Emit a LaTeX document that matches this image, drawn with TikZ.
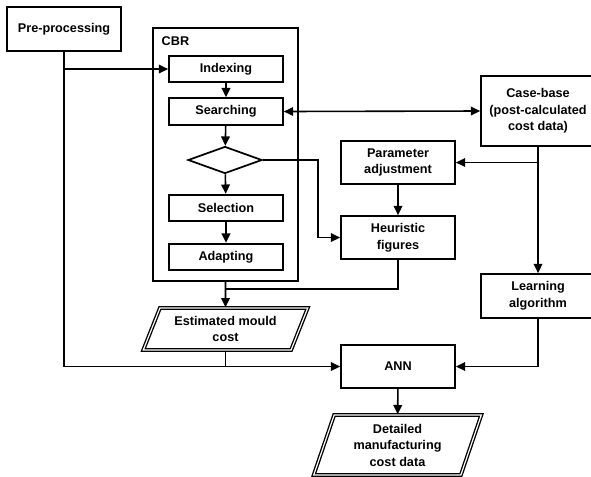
\documentclass[tikz,border=0pt]{standalone}
\usepackage{fontspec}
\setmainfont{Liberation Sans}
\usetikzlibrary{arrows.meta, positioning, shapes.geometric}

\begin{document}
\begin{tikzpicture}[
  x=0.75pt, y=-0.75pt,
  font=\fontsize{9.5}{12.4}\selectfont\bfseries,
  box/.style={draw, line width=1.3pt, minimum width=85.5pt, align=center, inner sep=1pt},
  stepbox/.style={box, minimum height=20pt},
  outbox/.style={draw, line width=1pt, double, double distance=0.9pt, trapezium, trapezium stretches=true, align=center, inner sep=1pt},
  arrow/.style={-{Triangle[length=7pt, width=6.5pt]}, line width=1.2pt},
  twoway/.style={{Triangle[length=7pt, width=6.5pt]}-{Triangle[length=7pt, width=6.5pt]}, line width=1.2pt},
  line/.style={line width=1.2pt},
]
\useasboundingbox (0,0) rectangle (591,476);

% CBR frame and its steps
\node[draw, line width=1.3pt, minimum width=108.75pt, minimum height=189.75pt] (cbr) at (225.5,154.5) {};
\node[anchor=west] (cbrlabel) at (157,41) {CBR};
\node[stepbox] (indexing) at (226,69) {Indexing};
\node[stepbox] (searching) at (226,111.5) {Searching};
\node[draw, diamond, line width=1.3pt, aspect=2.74, minimum width=55.5pt, minimum height=20.25pt, inner sep=0pt] (check) at (225,160) {};
\node[stepbox] (selection) at (226,208) {Selection};
\node[stepbox] (adapting) at (226,257) {Adapting};

% Other blocks
\node[box, minimum height=33pt] (pre) at (64,29) {Pre-processing};
\node[box, minimum height=52.5pt] (casebase) at (538,111) {Case-base\\(post-calculated\\cost data)};
\node[box, minimum height=32.25pt] (param) at (398,162.5) {Parameter\\adjustment};
\node[box, minimum height=32.25pt] (heuristic) at (398,237.5) {Heuristic\\figures};
\node[box, minimum height=33pt] (learning) at (538,296) {Learning\\algorithm};
\node[box, minimum height=32.25pt] (ann) at (398,366.5) {ANN};

% Outputs
\node[outbox, trapezium left angle=65, trapezium right angle=115, minimum width=124pt, minimum height=31.5pt] (mould) at (225.5,329) {Estimated mould\\cost};
\node[outbox, trapezium left angle=72, trapezium right angle=108, minimum width=126pt, minimum height=45pt] (detailed) at (397.5,445) {Detailed\\manufacturing\\cost data};

% Pre-processing feeds CBR and ANN
\draw[arrow] (pre.south) |- (ann.west);
\draw[arrow] (pre.south |- indexing.west) -- (indexing.west);

% Steps inside CBR
\draw[arrow] (indexing) -- (searching);
\draw[arrow] (searching) -- (check);
\draw[arrow] (check) -- (selection);
\draw[arrow] (selection) -- (adapting);

% Case-base links
\draw[twoway] (searching.east) -- (casebase.west);
\draw[arrow] (casebase) -- (learning);
\draw[arrow] (casebase.south |- param.east) -- (param.east);

% Heuristic route
\draw[arrow] (check.east) -- ++(55,0) |- (heuristic.west);
\draw[arrow] (param) -- (heuristic);
\coordinate (merge) at (226,289);
\draw[line] (heuristic.south) |- (merge);
\draw[arrow] (cbr.south) -- (mould.north);

% Into ANN
\draw[line] (mould.south) -- (mould.south |- ann.west);
\draw[arrow] (learning.south) |- (ann.east);
\draw[arrow] (ann) -- (detailed);

\end{tikzpicture}
\end{document}
